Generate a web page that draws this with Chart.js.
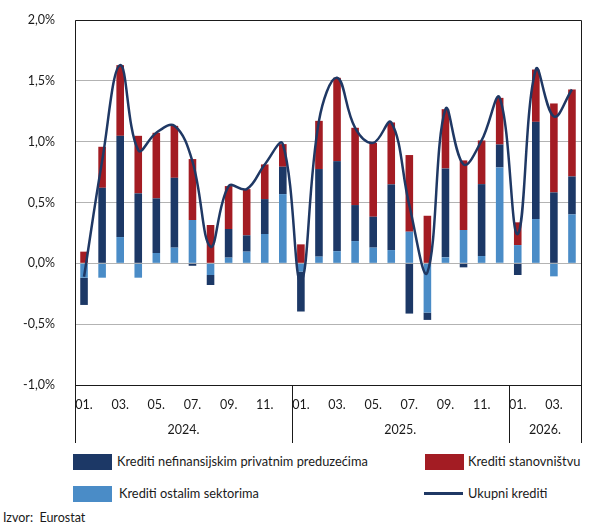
<!DOCTYPE html>
<html>
<head>
<meta charset="utf-8">
<script src="https://cdn.jsdelivr.net/npm/chart.js@4.4.1/dist/chart.umd.min.js"></script>
<style>
  html, body { margin: 0; padding: 0; background: #fff; }
  body { width: 615px; height: 524px; position: relative; overflow: hidden; font-family: Lato, "Noto Sans", sans-serif; color: #1a1a1a; }
  #wrap { position: absolute; left: 0; top: 0; width: 615px; height: 450px; }
  .lg { position: absolute; font-size: 12.8px; line-height: 16px; white-space: nowrap; }
  .sw { position: absolute; width: 39px; height: 16px; }
  .ln { position: absolute; width: 39px; height: 3px; background: #1f3864; }
  #src { position: absolute; left: 3px; top: 510px; font-size: 12.5px; }
</style>
</head>
<body>
<div id="wrap"><canvas id="c"></canvas></div>

<div class="sw" style="left:73px; top:454px; background:#1c3866;"></div>
<div class="lg" style="left:117px; top:453px;">Krediti nefinansijskim privatnim preduzećima</div>
<div class="sw" style="left:425px; top:454px; background:#a31c23;"></div>
<div class="lg" style="left:468px; top:453px;">Krediti stanovništvu</div>
<div class="sw" style="left:73px; top:486px; background:#4a8cc7;"></div>
<div class="lg" style="left:119px; top:485px;">Krediti ostalim sektorima</div>
<div class="ln" style="left:424px; top:492px;"></div>
<div class="lg" style="left:468px; top:485px;">Ukupni krediti</div>
<div id="src">Izvor:&nbsp; Eurostat</div>

<script>
// Months (2024-01 .. 2026-04)
const months = ['01.','02.','03.','04.','05.','06.','07.','08.','09.','10.','11.','12.',
                '01.','02.','03.','04.','05.','06.','07.','08.','09.','10.','11.','12.',
                '01.','02.','03.','04.'];
const years = ['2024.', '2025.', '2026.'];
const yearSpans = [12, 12, 4];

// Contribution values (percentage points)
const nfcLoans = [-0.224, 0.621, 0.832, 0.575, 0.449, 0.574, -0.020, -0.082, 0.235, 0.134, 0.287, 0.225,
                  -0.328, 0.720, 0.740, 0.296, 0.254, 0.540, -0.413, -0.060, 0.731, -0.033, 0.591, 0.189,
                  -0.096, 0.799, 0.583, 0.312];
const householdLoans = [0.096, 0.337, 0.581, 0.473, 0.539, 0.427, 0.501, 0.315, 0.353, 0.380, 0.285, 0.186,
                        0.156, 0.396, 0.685, 0.635, 0.607, 0.509, 0.630, 0.391, 0.487, 0.572, 0.359, 0.383,
                        0.187, 0.430, 0.731, 0.715];
const otherLoans = [-0.118, -0.118, 0.216, -0.118, 0.085, 0.129, 0.356, -0.096, 0.047, 0.096, 0.241, 0.569,
                    -0.068, 0.055, 0.100, 0.183, 0.129, 0.109, 0.260, -0.405, 0.049, 0.274, 0.060, 0.788,
                    0.150, 0.364, -0.107, 0.402];
const totalLoans = [-0.110, 0.840, 1.629, 0.930, 1.073, 1.130, 0.837, 0.137, 0.635, 0.610, 0.813, 0.980,
                    -0.150, 1.171, 1.525, 1.114, 0.990, 1.158, 0.477, -0.074, 1.267, 0.813, 1.010, 1.360,
                    0.241, 1.593, 1.207, 1.429];

const yTicks = [-1.0, -0.5, 0.0, 0.5, 1.0, 1.5, 2.0];

const NAVY = '#1c3866', RED = '#a31c23', LIGHT = '#4a8cc7', LINE = '#1f3864';
const FONT = 'Lato, "Noto Sans", sans-serif';

const frame = {
  id: 'frame',
  afterDraw(chart) {
    const ctx = chart.ctx, a = chart.chartArea;
    const bottomBox = a.bottom + 58;
    ctx.save();
    ctx.strokeStyle = '#1a1a1a';
    ctx.lineWidth = 1;
    const L = Math.round(a.left) + 0.5, R = Math.round(a.right) + 0.5;
    const B = Math.round(a.bottom) + 0.5, T = Math.round(a.top) + 0.5;
    ctx.beginPath();
    ctx.moveTo(L, T); ctx.lineTo(L, bottomBox);
    ctx.moveTo(R, T); ctx.lineTo(R, bottomBox);
    ctx.moveTo(L, B); ctx.lineTo(R, B);
    ctx.moveTo(L, T); ctx.lineTo(R, T);
    let idx = 0;
    const step = (a.right - a.left) / months.length;
    ctx.font = '12.5px ' + FONT;
    ctx.fillStyle = '#1a1a1a';
    ctx.textAlign = 'center';
    ctx.textBaseline = 'middle';
    years.forEach((yr, i) => {
      const x0 = a.left + idx * step, x1 = a.left + (idx + yearSpans[i]) * step;
      if (i > 0) { const sx = Math.round(x0) + 0.5; ctx.moveTo(sx, B); ctx.lineTo(sx, bottomBox); }
      ctx.fillText(yr, (x0 + x1) / 2, a.bottom + 45);
      idx += yearSpans[i];
    });
    ctx.stroke();
    ctx.restore();
  }
};

new Chart(document.getElementById('c'), {
  data: {
    labels: months,
    datasets: [
      { type: 'line', label: 'Ukupni krediti', data: totalLoans, borderColor: LINE, borderWidth: 2.5,
        pointRadius: 0, tension: 0.4, fill: false, stack: 'line', order: 0 },
      { type: 'bar', label: 'Krediti ostalim sektorima', data: otherLoans, backgroundColor: LIGHT, stack: 'bars', order: 1 },
      { type: 'bar', label: 'Krediti nefinansijskim privatnim preduzećima', data: nfcLoans, backgroundColor: NAVY, stack: 'bars', order: 1 },
      { type: 'bar', label: 'Krediti stanovništvu', data: householdLoans, backgroundColor: RED, stack: 'bars', order: 1 }
    ]
  },
  options: {
    responsive: true,
    maintainAspectRatio: false,
    animation: false,
    layout: { padding: { top: 20, right: 34, left: 0, bottom: 0 } },
    datasets: { bar: { categoryPercentage: 0.84, barPercentage: 0.5 } },
    plugins: { legend: { display: false }, tooltip: { enabled: false } },
    scales: {
      x: {
        stacked: true,
        offset: true,
        grid: { display: false, drawTicks: false },
        border: { display: false },
        ticks: {
          autoSkip: false, maxRotation: 0, padding: 12,
          color: '#1a1a1a', font: { family: FONT, size: 12.5 },
          callback: (v, i) => (i % 2 === 0 ? months[i] : '')
        },
        afterFit: s => { s.height = 65; }
      },
      y: {
        stacked: true,
        min: -1, max: 2,
        afterBuildTicks: s => { s.ticks = yTicks.map(v => ({ value: v })); },
        grid: { color: '#b3b3b3', lineWidth: 1, drawTicks: false },
        border: { display: false },
        ticks: {
          padding: 20, color: '#1a1a1a', font: { family: FONT, size: 12.5 },
          callback: v => v.toFixed(1).replace('.', ',') + '%'
        },
        afterFit: s => { s.width = 75; s.paddingTop = 0; s.paddingBottom = 0; }
      }
    }
  },
  plugins: [frame]
});
</script>
</body>
</html>
